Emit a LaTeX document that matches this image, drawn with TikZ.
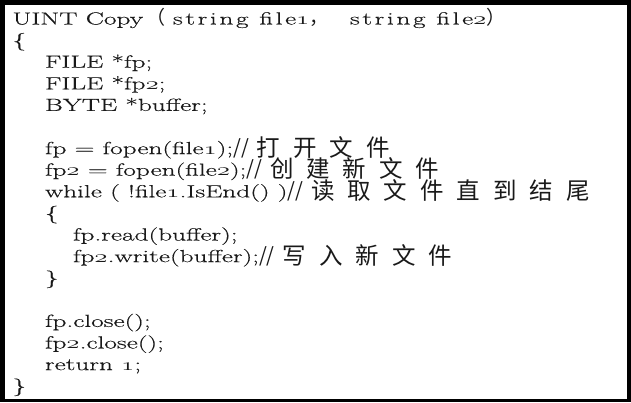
\documentclass[tikz,border=0pt]{standalone}
\usepackage{fontspec}
\usepackage{graphicx}
\setmainfont{Latin Modern Roman}[FakeStretch=1.56,FakeBold=0.4]
\newfontfamily\hdr{Latin Modern Roman}[FakeStretch=1.56,FakeBold=0.4,LetterSpace=15]
\newfontfamily\cjk[LetterSpace=55]{Noto Sans CJK SC}
\newfontfamily\cjkp{Noto Sans CJK SC}
\newcommand\osd[1]{\scalebox{1.56}[1]{\usefont{OML}{lmm}{m}{it}#1}}
\newcommand\zh[1]{{\cjkp\fontsize{20}{21.6}\selectfont //\hspace{8pt}}\raisebox{-2pt}{\cjk\fontsize{23.5}{21.6}\selectfont #1}}
\newcommand\zp[1]{{\cjkp\fontsize{19}{21.6}\selectfont #1}}
\tikzset{
  codeline/.style={anchor=base west, inner sep=0pt, outer sep=0pt,
    font=\fontsize{17.5}{21.6}\selectfont, text=black!90}
}
\begin{document}
\begin{tikzpicture}[x=1pt,y=1pt]
\useasboundingbox (0,0) rectangle (631,-402);
\fill[black] (0,0) rectangle (631,-402);
\fill[white] (4.5,-4.5) rectangle (627,-399);
\def\b#1{-24.5-21.6*#1}
\node[codeline] (l0) at (12.5,{\b{0}}) {UINT Copy};
\node[codeline] (l0p) at (146,{\b{0}}) {\zp{（}};
\node[codeline] (l0s) at (173,{\b{0}}) {\hdr string file\osd{1}};
\node[codeline] (l0c) at (l0s.base east) {\zp{，}};
\node[codeline] (l0t) at (350,{\b{0}}) {\hdr string file\osd{2}};
\node[codeline] (l0q) at (l0t.base east) {\zp{）}};
\node[codeline] (l1) at (12.5,{\b{1}}) {\{};
\node[codeline] (l2) at (45,{\b{2}}) {FILE *fp;};
\node[codeline] (l3) at (45,{\b{3}}) {FILE *fp\osd{2};};
\node[codeline] (l4) at (45,{\b{4}}) {BYTE *buffer;};
\node[codeline] (l6) at (45,{\b{6}}) {fp = fopen(file\osd{1});\zh{打开文件}};
\node[codeline] (l7) at (45,{\b{7}}) {fp\osd{2} = fopen(file\osd{2});\zh{创建新文件}};
\node[codeline] (l8) at (45,{\b{8}}) {while ( !file\osd{1}.IsEnd() )\zh{读取文件直到结尾}};
\node[codeline] (l9) at (45,{\b{9}}) {\{};
\node[codeline] (l10) at (73,{\b{10}}) {fp.read(buffer);};
\node[codeline] (l11) at (73,{\b{11}}) {fp\osd{2}.write(buffer);\zh{写入新文件}};
\node[codeline] (l12) at (45,{\b{12}}) {\}};
\node[codeline] (l14) at (45,{\b{14}}) {fp.close();};
\node[codeline] (l15) at (45,{\b{15}}) {fp\osd{2}.close();};
\node[codeline] (l16) at (45,{\b{16}}) {return \osd{1};};
\node[codeline] (l17) at (12.5,{\b{17}}) {\}};
\end{tikzpicture}
\end{document}
